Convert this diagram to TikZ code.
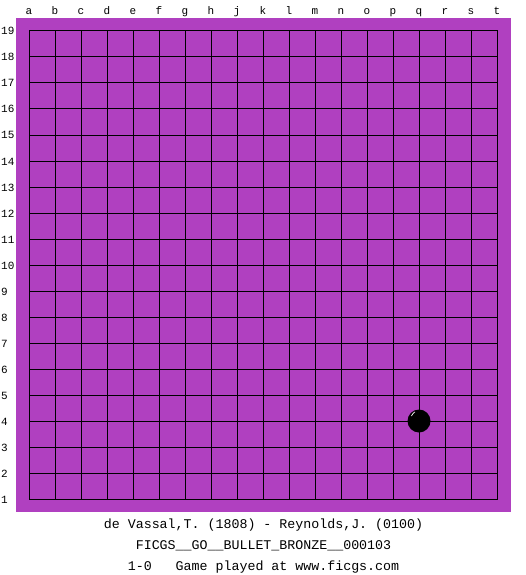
\documentclass[tikz,border=0pt]{standalone}
\usepackage{fontspec}
\usepackage{xcolor}
\newfontfamily\boardfont{Liberation Mono}
\definecolor{boardpurple}{RGB}{176,64,192}
\usetikzlibrary{positioning}

\begin{document}
\begin{tikzpicture}[x=1pt,y=-1pt,
    coordlabel/.style={font=\boardfont\fontsize{11}{12}\selectfont,inner sep=0pt},
    infoline/.style={font=\boardfont\fontsize{13.3}{15}\selectfont,inner sep=0pt,anchor=base}]
\useasboundingbox (0,0) rectangle (525,575);
\fill[white] (0,0) rectangle (525,575);
\fill[boardpurple] (16,18) rectangle (511,512);
% grid
\foreach \i in {0,1,...,18}{
    \draw[line width=1pt,line cap=rect] (29+26*\i,31) -- (29+26*\i,499);
    \draw[line width=1pt,line cap=rect] (29,31+26*\i) -- (497,31+26*\i);
}
% coordinates
\foreach \c[count=\idx] in {a,b,c,d,e,f,g,h,j,k,l,m,n,o,p,q,r,s,t}{
    \node[coordlabel,anchor=base] (col-\c) at (3+26*\idx,14.5) {\c};
}
\foreach \r in {1,2,...,19}{
    \node[coordlabel,anchor=base west] (row-\r) at (1,503-26*\r+26) {\r};
}
% stone on q4
\fill[black] (419,421) circle (11.5);
\draw[white,line width=0.7pt] (411.5,416) arc (200:240:8);
% game info
\node[infoline] (players) at (263.5,528.5) {de Vassal,T. (1808) - Reynolds,J. (0100)};
\node[infoline] (event) at (263.5,549.5) {FICGS\_\_GO\_\_BULLET\_BRONZE\_\_000103};
\node[infoline] (result) at (263.5,570.5) {1-0\ \ \ Game played at www.ficgs.com};
\end{tikzpicture}
\end{document}
